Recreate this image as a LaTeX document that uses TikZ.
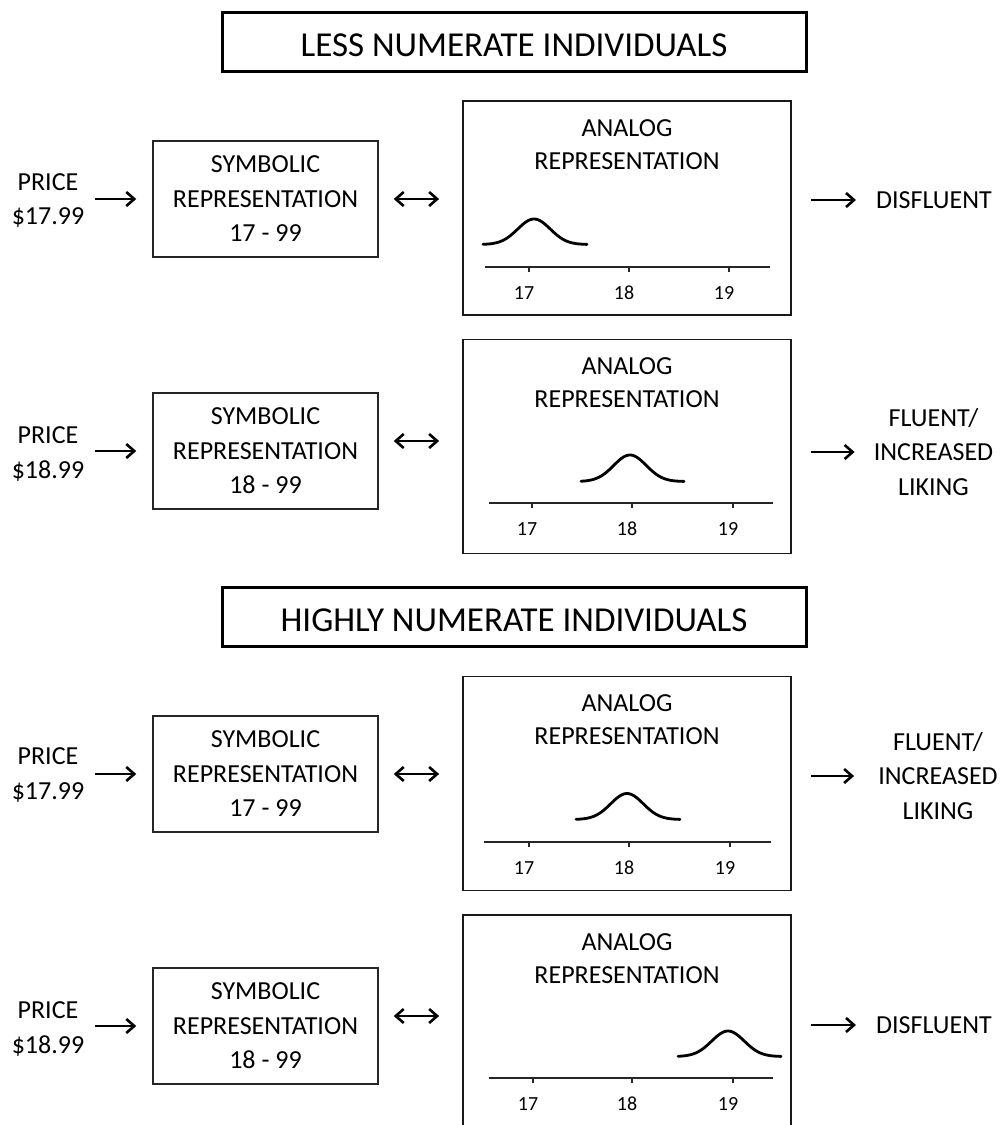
\documentclass[tikz,border=0pt]{standalone}
\usepackage{fontspec}
\setmainfont{Carlito}
\usetikzlibrary{arrows.meta}
\begin{document}
\begin{tikzpicture}[x=1pt,y=-1pt]
\tikzset{
 txt/.style={font=\fontsize{26}{34.5}\selectfont, align=center, inner sep=0pt, text=black},
 symbox/.style={draw=black!85, line width=1.5pt, minimum width=225pt, minimum height=116pt, inner sep=0pt, font=\fontsize{26}{34.5}\selectfont, align=center},
 anabox/.style={draw=black!90, line width=1.8pt, minimum width=328pt, minimum height=214pt, inner sep=0pt},
 anatitle/.style={anchor=north, inner sep=0pt, align=center, font=\fontsize{26}{33}\selectfont},
 titlebox/.style={draw=black, line width=3pt, minimum width=584pt, minimum height=59pt, inner sep=0pt, font=\fontsize{35}{40}\selectfont, text height=29.5pt, text depth=0pt},
 arr/.style={line width=2.6pt, -{Straight Barb[length=8pt,width=14pt]}},
 darr/.style={line width=2.6pt, {Straight Barb[length=8pt,width=14pt]}-{Straight Barb[length=8pt,width=14pt]}},
 axisline/.style={line width=1.5pt, draw=black!85},
 bumpline/.style={line width=2.8pt, line cap=round, line join=round},
 ticklab/.style={font=\fontsize{20}{24}\selectfont, inner sep=0pt},
}
\path[use as bounding box, fill=white] (0,0) rectangle (1001,1125);

% titles
\node[titlebox] (t1) at (514,41.5) {LESS NUMERATE INDIVIDUALS};
\node[titlebox] (t2) at (514,616.5) {HIGHLY NUMERATE INDIVIDUALS};

% ---------- panel 1 ----------
\node[txt] (p1) at (48,200.5) {PRICE\\\$17.99};
\node[symbox] (s1) at (265.5,199) {SYMBOLIC\\REPRESENTATION\\17 - 99};
\node[anabox] (a1) at (627,208) {};
\node[anatitle] (a1t) at ([yshift=-19pt]a1.north) {ANALOG\\REPRESENTATION};
\node[txt] (r1) at (934,200) {DISFLUENT};
\draw[axisline] (485,267) -- (770,267);
\foreach \t in {529,629,729} \draw[axisline] (\t,267) -- (\t,271.5);
\node[ticklab] (l1a) at (524,293) {17};
\node[ticklab] (l1b) at (624,293) {18};
\node[ticklab] (l1c) at (724,293) {19};
\draw[bumpline] plot[domain=-51:53, samples=70] ({534+\x},{244.5-25.5*exp(-1*(\x/23)*(\x/23))});
\draw[arr, shorten <=11pt, shorten >=16pt] (p1.east |- s1.west) -- (s1.west);
\draw[darr, shorten <=15pt, shorten >=23pt] (s1.east) -- (s1.east -| a1.west);
\draw[arr, shorten <=19pt, shorten >=20pt] (a1.east |- r1.west) -- (r1.west);

% ---------- panel 2 ----------
\node[txt] (p2) at (48,454) {PRICE\\\$18.99};
\node[symbox] (s2) at (265.5,451) {SYMBOLIC\\REPRESENTATION\\18 - 99};
\node[anabox] (a2) at (627,446.5) {};
\node[anatitle] (a2t) at ([yshift=-19pt]a2.north) {ANALOG\\REPRESENTATION};
\node[txt] (r2) at (933.5,452) {FLUENT/\\INCREASED\\LIKING};
\draw[axisline] (489,503) -- (773,503);
\foreach \t in {532,632,733} \draw[axisline] (\t,503) -- (\t,507.5);
\node[ticklab] (l2a) at (527,529) {17};
\node[ticklab] (l2b) at (627,529) {18};
\node[ticklab] (l2c) at (728,529) {19};
\draw[bumpline] plot[domain=-49:54, samples=70] ({630+\x},{481.5-26.5*exp(-1*(\x/23)*(\x/23))});
\coordinate (d2) at ([yshift=10pt]s2.east);
\draw[arr, shorten <=11pt, shorten >=16pt] (p2.east |- s2.west) -- (s2.west);
\draw[darr, shorten <=15pt, shorten >=23pt] (d2) -- (d2 -| a2.west);
\draw[arr, shorten <=19pt, shorten >=19pt] (a2.east |- r2.west) -- (r2.west);

% ---------- panel 3 ----------
\node[txt] (p3) at (48,775) {PRICE\\\$17.99};
\node[symbox] (s3) at (265.5,774) {SYMBOLIC\\REPRESENTATION\\17 - 99};
\node[anabox] (a3) at (627,783.5) {};
\node[anatitle] (a3t) at ([yshift=-19pt]a3.north) {ANALOG\\REPRESENTATION};
\node[txt] (r3) at (938,776) {FLUENT/\\INCREASED\\LIKING};
\draw[axisline] (484,842) -- (771,842);
\foreach \t in {529,629,730} \draw[axisline] (\t,842) -- (\t,846.5);
\node[ticklab] (l3a) at (524,868) {17};
\node[ticklab] (l3b) at (624,868) {18};
\node[ticklab] (l3c) at (725,868) {19};
\draw[bumpline] plot[domain=-51:53, samples=70] ({627+\x},{819.5-26*exp(-1*(\x/23)*(\x/23))});
\draw[arr, shorten <=11pt, shorten >=16pt] (p3.east |- s3.west) -- (s3.west);
\draw[darr, shorten <=15pt, shorten >=23pt] (s3.east) -- (s3.east -| a3.west);
\draw[arr, shorten <=19pt, shorten >=24pt] (a3.east |- r3.west) -- (r3.west);

% ---------- panel 4 ----------
\node[txt] (p4) at (48,1029) {PRICE\\\$18.99};
\node[symbox] (s4) at (265.5,1026) {SYMBOLIC\\REPRESENTATION\\18 - 99};
\node[anabox] (a4) at (627,1022) {};
\node[anatitle] (a4t) at ([yshift=-19pt]a4.north) {ANALOG\\REPRESENTATION};
\node[txt] (r4) at (934,1025) {DISFLUENT};
\draw[axisline] (489,1078) -- (773,1078);
\foreach \t in {533,632,733} \draw[axisline] (\t,1078) -- (\t,1082.5);
\node[ticklab] (l4a) at (528,1104) {17};
\node[ticklab] (l4b) at (627,1104) {18};
\node[ticklab] (l4c) at (728,1104) {19};
\draw[bumpline] plot[domain=-50:53, samples=70] ({728+\x},{1056.5-25.5*exp(-1*(\x/23)*(\x/23))});
\coordinate (d4) at ([yshift=10pt]s4.east);
\draw[arr, shorten <=11pt, shorten >=16pt] (p4.east |- s4.west) -- (s4.west);
\draw[darr, shorten <=15pt, shorten >=23pt] (d4) -- (d4 -| a4.west);
\draw[arr, shorten <=19pt, shorten >=20pt] (a4.east |- r4.west) -- (r4.west);
\end{tikzpicture}
\end{document}
